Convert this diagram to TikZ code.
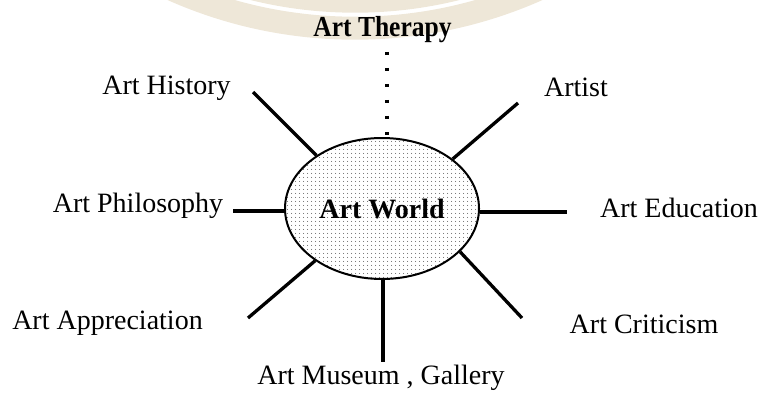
\documentclass[tikz,border=0pt]{standalone}
\usepackage{fontspec}
\setmainfont{Liberation Serif}
\usepackage{tikz}
\usetikzlibrary{shapes.geometric, patterns.meta, positioning}
\definecolor{stampbeige}{RGB}{238,231,216}

\begin{document}
\begin{tikzpicture}[x=1pt, y=-1pt]
            \tikzset{hubnode/.style={ellipse, draw, line width=2pt, minimum width=194pt, minimum height=141pt, inner sep=0pt,
                pattern={Dots[distance=4pt, radius=0.6pt]}, pattern color=black!70, font=\fontsize{28}{32}\selectfont\bfseries}}
            \tikzset{topicnode/.style={anchor=base, inner sep=0pt, font=\fontsize{28}{32}\selectfont}}
            \tikzset{spoke/.style={line width=3.3pt}}
            \tikzset{dotspoke/.style={line width=3.2pt, dash pattern=on 3pt off 13pt}}
            \useasboundingbox (0,0) rectangle (762,393);
            % faint stamp at the top edge
            \begin{scope}
                \clip (0,0) rectangle (762,393);
                \draw[stampbeige, line width=23pt] (355,-421.8) circle[radius=450];
                \draw[stampbeige, line width=13pt] (355,-421.8) circle[radius=428];
            \end{scope}
            \node[hubnode] (world) at (382,208.5) {Art World};
            \node[topicnode, font=\fontsize{29}{32}\selectfont\bfseries] (therapy) at (382.5,37) {\scalebox{0.88}[1]{Art Therapy}};
            \node[topicnode] (history) at (166.5,95) {Art History};
            \node[topicnode] (artist) at (576,97) {Artist};
            \node[topicnode] (philosophy) at (138,212) {Art Philosophy};
            \node[topicnode] (education) at (679,217) {Art Education};
            \node[topicnode] (appreciation) at (107.5,329) {Art Appreciation};
            \node[topicnode] (criticism) at (644,333) {Art Criticism};
            \node[topicnode] (museum) at (381,384) {Art Museum , Gallery};
            % free ends of the spokes
            \coordinate (ther-end) at (387,52);
            \coordinate (hist-end) at (253,92);
            \coordinate (artist-end) at (518,103);
            \coordinate (phil-end) at (233,211);
            \coordinate (edu-end) at (567,212);
            \coordinate (appr-end) at (248,318);
            \coordinate (crit-end) at (522,318);
            \coordinate (mus-end) at (383,362);
            \draw[dotspoke] (ther-end) -- (ther-end |- world.north);
            \draw[spoke] (world.141) -- (hist-end);
            \draw[spoke] (world.35) -- (artist-end);
            \draw[spoke] (phil-end -| world.west) -- (phil-end);
            \draw[spoke] (edu-end -| world.east) -- (edu-end);
            \draw[spoke] (world.218) -- (appr-end);
            \draw[spoke] (world.331) -- (crit-end);
            \draw[spoke] (mus-end |- world.south) -- (mus-end);
        \end{tikzpicture}
\end{document}
